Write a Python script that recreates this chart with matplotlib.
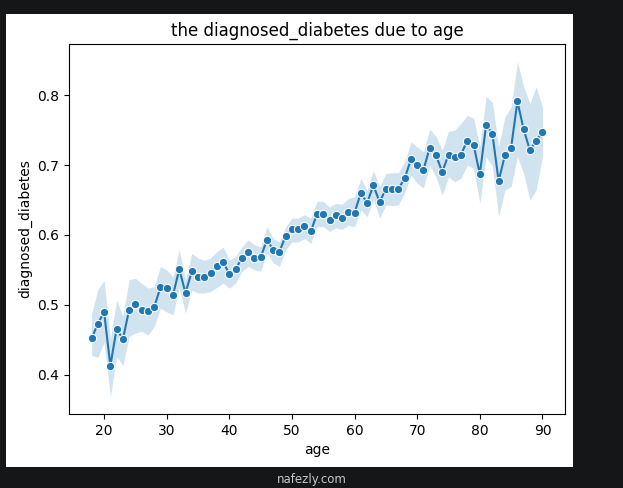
import numpy as np
import matplotlib
matplotlib.use("Agg")
import matplotlib.pyplot as plt
from matplotlib.patches import Rectangle

# mean share diagnosed per age, with the confidence band
ages = list(range(18, 91))
diagnosed = [
    0.452, 0.473, 0.490, 0.413, 0.466, 0.451, 0.493, 0.502, 0.493, 0.491,
    0.497, 0.525, 0.524, 0.514, 0.551, 0.517, 0.548, 0.540, 0.540, 0.546,
    0.555, 0.562, 0.544, 0.551, 0.567, 0.575, 0.567, 0.568, 0.593, 0.579,
    0.576, 0.599, 0.609, 0.609, 0.613, 0.605, 0.630, 0.630, 0.621, 0.628,
    0.624, 0.633, 0.632, 0.660, 0.646, 0.671, 0.647, 0.666, 0.666, 0.666,
    0.681, 0.708, 0.700, 0.693, 0.725, 0.714, 0.690, 0.715, 0.711, 0.715,
    0.735, 0.729, 0.687, 0.757, 0.745, 0.677, 0.714, 0.725, 0.791, 0.751,
    0.721, 0.735, 0.747,
]
ci_low = [
    0.428, 0.425, 0.447, 0.368, 0.426, 0.413, 0.455, 0.460, 0.462, 0.457,
    0.469, 0.495, 0.490, 0.486, 0.524, 0.488, 0.521, 0.517, 0.517, 0.519,
    0.525, 0.531, 0.524, 0.531, 0.548, 0.555, 0.550, 0.548, 0.574, 0.560,
    0.555, 0.579, 0.590, 0.590, 0.595, 0.588, 0.612, 0.612, 0.605, 0.610,
    0.608, 0.614, 0.612, 0.636, 0.626, 0.650, 0.624, 0.643, 0.642, 0.643,
    0.660, 0.686, 0.674, 0.667, 0.700, 0.683, 0.657, 0.683, 0.676, 0.681,
    0.700, 0.695, 0.645, 0.712, 0.698, 0.626, 0.664, 0.669, 0.712, 0.688,
    0.650, 0.664, 0.712,
]
ci_high = [
    0.487, 0.522, 0.535, 0.452, 0.507, 0.484, 0.536, 0.538, 0.531, 0.524,
    0.526, 0.555, 0.550, 0.540, 0.579, 0.536, 0.574, 0.567, 0.564, 0.567,
    0.576, 0.583, 0.564, 0.569, 0.583, 0.593, 0.586, 0.583, 0.612, 0.595,
    0.590, 0.612, 0.624, 0.624, 0.629, 0.624, 0.648, 0.648, 0.640, 0.645,
    0.644, 0.652, 0.655, 0.681, 0.664, 0.692, 0.669, 0.688, 0.689, 0.689,
    0.705, 0.733, 0.726, 0.719, 0.751, 0.741, 0.721, 0.748, 0.750, 0.760,
    0.771, 0.767, 0.726, 0.798, 0.790, 0.726, 0.769, 0.783, 0.848, 0.812,
    0.788, 0.812, 0.783,
]

blue = "#1f77b4"

fig = plt.figure(figsize=(6.23, 4.88), dpi=100)
fig.patch.set_facecolor("#141617")
# white notebook output area behind the plot
fig.add_artist(Rectangle((0.0096, 0.043), 0.9101, 0.9283,
                         transform=fig.transFigure, facecolor="white",
                         edgecolor="none", zorder=-10))

ax = fig.add_axes([0.1108, 0.1516, 0.7961, 0.7582])
ax.fill_between(ages, ci_low, ci_high, color=blue, alpha=0.2, linewidth=0)
ax.plot(ages, diagnosed, color=blue, linewidth=1.5, marker="o",
        markersize=6, markeredgecolor="white", markeredgewidth=0.75)

ax.margins(x=0.05)
ax.set_ylim(0.344, 0.873)
ax.set_xticks([20, 30, 40, 50, 60, 70, 80, 90])
ax.set_yticks([0.4, 0.5, 0.6, 0.7, 0.8])

ax.set_title("the diagnosed_diabetes due to age")
ax.set_xlabel("age")
ax.set_ylabel("diagnosed_diabetes")

# site watermark at the bottom
fig.text(0.501, 0.017, "nafezly.com", ha="center", va="center",
         color="#c8c8c8", fontsize=8.5)

fig.savefig("out.png", dpi=100, facecolor=fig.get_facecolor())
